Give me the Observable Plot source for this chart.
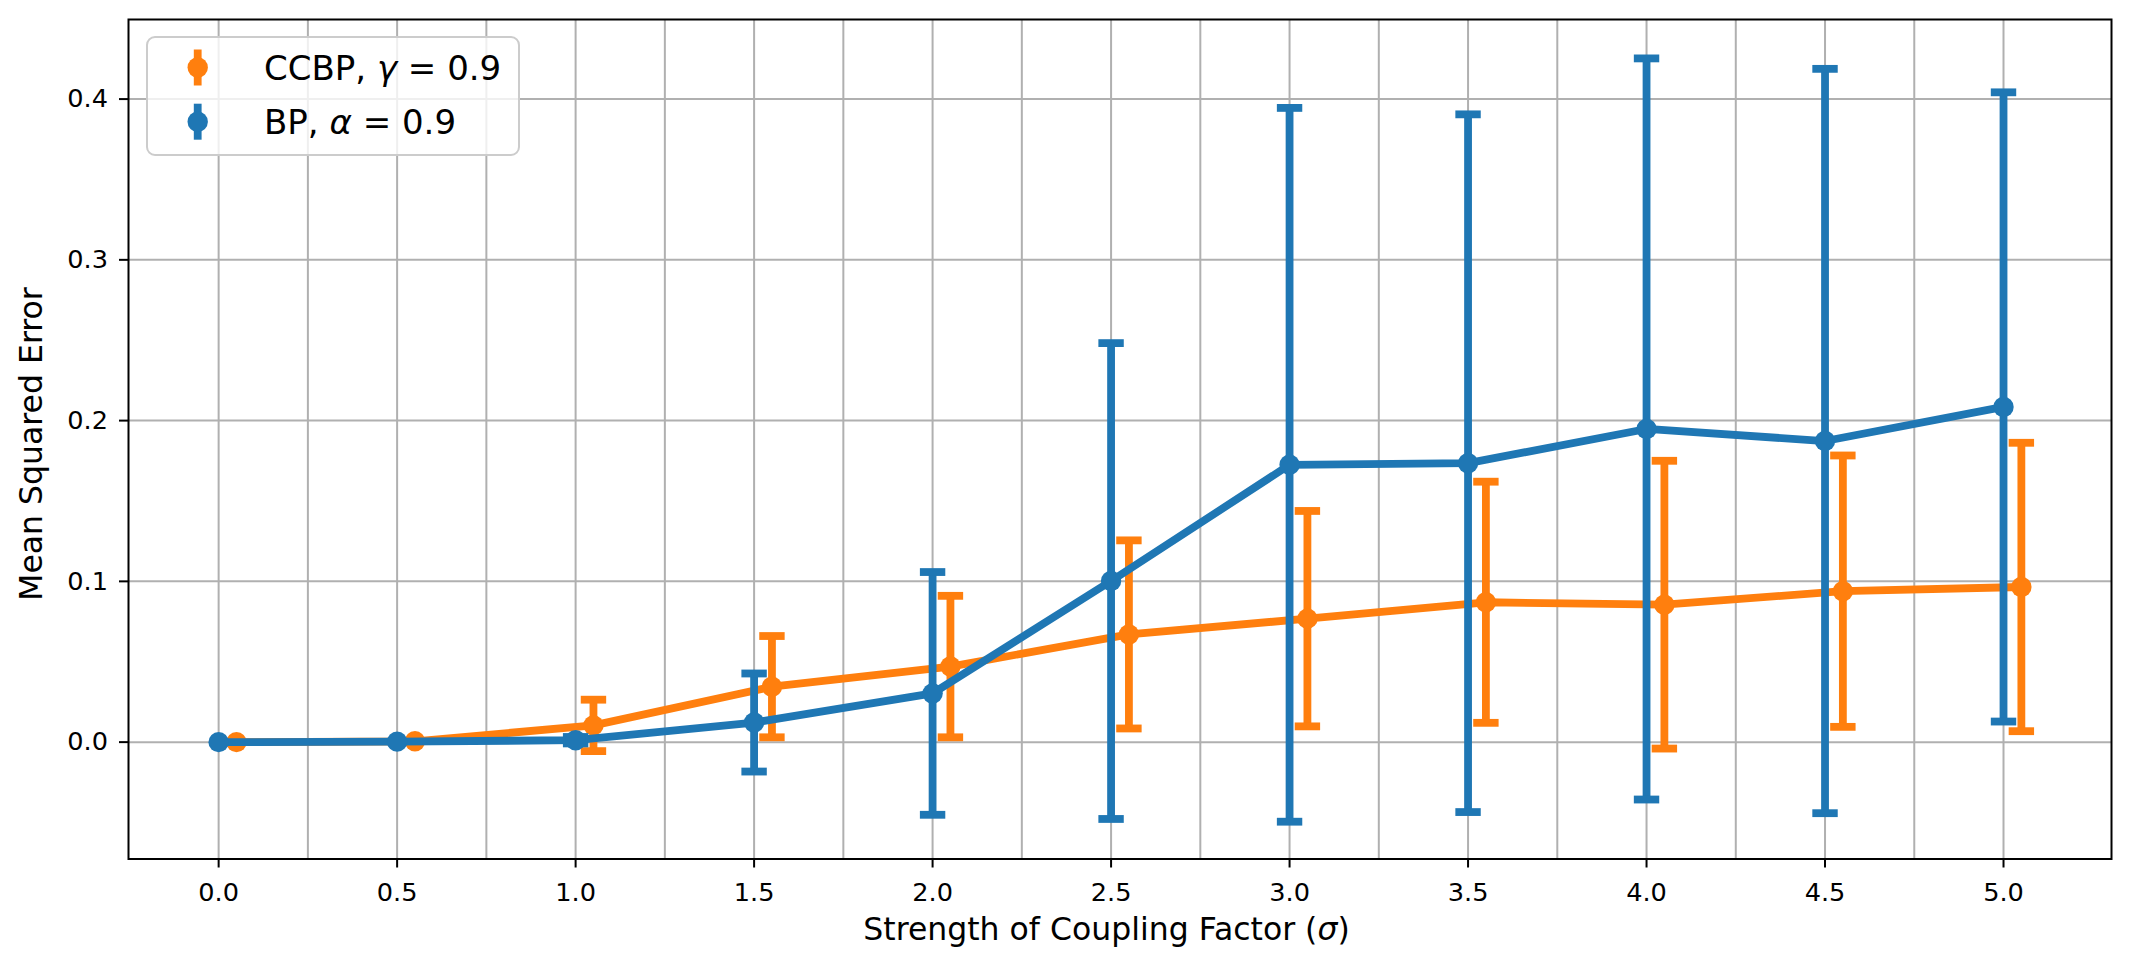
<!DOCTYPE html>
<html>
<head>
<meta charset="utf-8">
<script src="https://cdn.jsdelivr.net/npm/d3@7"></script>
<script src="https://cdn.jsdelivr.net/npm/@observablehq/plot@0.6"></script>
<style>
  html, body { margin: 0; padding: 0; background: #ffffff; }
  #chart { position: relative; width: 2130px; height: 956px; }
  svg { font-family: "DejaVu Sans", sans-serif; }
</style>
</head>
<body>
<div id="chart"></div>
<script>
// ---------------- data ----------------
const sigma = [0, 0.5, 1.0, 1.5, 2.0, 2.5, 3.0, 3.5, 4.0, 4.5, 5.0];
const ccbpOffset = 0.05; // CCBP points are drawn slightly to the right of each sigma
const ccbpMean = [0.0, 0.0005, 0.0104, 0.0345, 0.047, 0.067, 0.0768, 0.087, 0.0855, 0.0939, 0.0965];
const ccbpStd  = [0.0, 0.0, 0.016, 0.0315, 0.044, 0.0585, 0.067, 0.075, 0.0895, 0.0844, 0.0897];
const bpMean   = [0.0, 0.0003, 0.0012, 0.0122, 0.0303, 0.1002, 0.1725, 0.1735, 0.1948, 0.1873, 0.2085];
const bpStd    = [0.0, 0.0, 0.002, 0.0305, 0.0755, 0.148, 0.222, 0.217, 0.2305, 0.2315, 0.1957];

const xTicks = [0, 0.5, 1.0, 1.5, 2.0, 2.5, 3.0, 3.5, 4.0, 4.5, 5.0];
const xMinorTicks = [0.25, 0.75, 1.25, 1.75, 2.25, 2.75, 3.25, 3.75, 4.25, 4.75];
const yTicks = [0.0, 0.1, 0.2, 0.3, 0.4];

const xLabel = "Strength of Coupling Factor (σ)";
const yLabel = "Mean Squared Error";
const seriesNames = ["CCBP", "BP"];
const seriesParams = ["γ", "α"];
const seriesParamValues = ["0.9", "0.9"];
const seriesColors = ["#ff7f0e", "#1f77b4"];

// ---------------- tables ----------------
const ccbp = sigma.map((s, i) => ({x: s + ccbpOffset, mean: ccbpMean[i], std: ccbpStd[i]}));
const bp = sigma.map((s, i) => ({x: s, mean: bpMean[i], std: bpStd[i]}));

const LW = 7.8;
const TICK_FONT = 25.6;
const capSymbol = {
  draw(ctx, size) {
    const w = Math.sqrt(size / Math.PI);
    ctx.moveTo(-w, 0);
    ctx.lineTo(w, 0);
  }
};

function seriesMarks(rows, color) {
  const withErr = rows.filter(d => d.std > 0);
  return [
    Plot.ruleX(withErr, {x: "x", y1: d => d.mean - d.std, y2: d => d.mean + d.std, stroke: color, strokeWidth: LW}),
    Plot.dot(withErr, {x: "x", y: d => d.mean - d.std, r: 12.7, symbol: capSymbol, stroke: color, strokeWidth: LW, fill: "none"}),
    Plot.dot(withErr, {x: "x", y: d => d.mean + d.std, r: 12.7, symbol: capSymbol, stroke: color, strokeWidth: LW, fill: "none"}),
    Plot.line(rows, {x: "x", y: "mean", stroke: color, strokeWidth: LW, strokeLinejoin: "round"}),
    Plot.dot(rows, {x: "x", y: "mean", r: 10.2, fill: color, stroke: "none"})
  ];
}

const chart = Plot.plot({
  width: 2130,
  height: 956,
  marginLeft: 128,
  marginRight: 19,
  marginTop: 19,
  marginBottom: 97.5,
  style: {fontFamily: "DejaVu Sans", fontSize: TICK_FONT + "px", background: "#ffffff", color: "#000000"},
  x: {domain: [-0.2525, 5.3025]},
  y: {domain: [-0.0727, 0.4495]},
  marks: [
    Plot.ruleX(xTicks.concat(xMinorTicks), {stroke: "#b0b0b0", strokeWidth: 2}),
    Plot.ruleY(yTicks, {stroke: "#b0b0b0", strokeWidth: 2}),
    ...seriesMarks(ccbp, seriesColors[0]),
    ...seriesMarks(bp, seriesColors[1]),
    Plot.frame({stroke: "#000000", strokeWidth: 2}),
    Plot.axisX({ticks: xTicks, tickFormat: d3.format(".1f"), tickSize: 9, tickPadding: 15, fontSize: TICK_FONT, label: null, stroke: "#000000", strokeWidth: 2, fill: "#000000"}),
    Plot.axisY({ticks: yTicks, tickFormat: d3.format(".1f"), tickSize: 9, tickPadding: 11.5, fontSize: TICK_FONT, label: null, stroke: "#000000", strokeWidth: 2, fill: "#000000"}),
    Plot.text([xLabel], {frameAnchor: "bottom", text: d => d, dx: -13.5, dy: 80.5, lineAnchor: "bottom", textAnchor: "middle", fontSize: 31.5, fill: "#000000"}),
    Plot.text([yLabel], {frameAnchor: "left", text: d => d, rotate: -90, dx: -86.5, dy: 4.75, lineAnchor: "bottom", textAnchor: "middle", fontSize: 31.5, fill: "#000000"})
  ]
});

document.getElementById("chart").appendChild(chart);

const svg = d3.select(chart);

// make sure the tick labels use the measured font size
svg.selectAll("g[aria-label='x-axis tick label'], g[aria-label='y-axis tick label']")
  .attr("font-size", TICK_FONT)
  .style("font-size", TICK_FONT + "px");
svg.selectAll("g[aria-label='x-axis tick label'] text, g[aria-label='y-axis tick label'] text")
  .style("font-size", TICK_FONT + "px");

// italic sigma in x label (mathtext style)
svg.selectAll("text").filter(function() { return this.textContent === xLabel; }).each(function() {
  const t = d3.select(this);
  t.text(null);
  t.append("tspan").text("Strength of Coupling Factor (");
  t.append("tspan").attr("font-style", "italic").text("σ");
  t.append("tspan").text(")");
});

// ---------------- legend ----------------
const lg = svg.append("g").attr("font-family", "DejaVu Sans").attr("font-size", 34).attr("text-anchor", "start");
lg.append("rect")
  .attr("x", 147).attr("y", 37).attr("width", 372).attr("height", 118)
  .attr("rx", 8).attr("ry", 8)
  .attr("fill", "#ffffff").attr("fill-opacity", 0.8)
  .attr("stroke", "#cccccc").attr("stroke-width", 2);
const rowCenters = [67.5, 121.7];
seriesNames.forEach((name, i) => {
  const cy = rowCenters[i];
  lg.append("line").attr("x1", 197.7).attr("x2", 197.7).attr("y1", cy - 18).attr("y2", cy + 18)
    .attr("stroke", seriesColors[i]).attr("stroke-width", LW);
  lg.append("circle").attr("cx", 197.7).attr("cy", cy).attr("r", 10.2).attr("fill", seriesColors[i]);
  const t = lg.append("text").attr("x", 264).attr("y", cy + 12.6).attr("fill", "#000000").attr("text-anchor", "start");
  t.append("tspan").text(name + ", ");
  t.append("tspan").attr("font-style", "italic").text(seriesParams[i]);
  t.append("tspan").text(" = " + seriesParamValues[i]);
});
</script>
</body>
</html>
